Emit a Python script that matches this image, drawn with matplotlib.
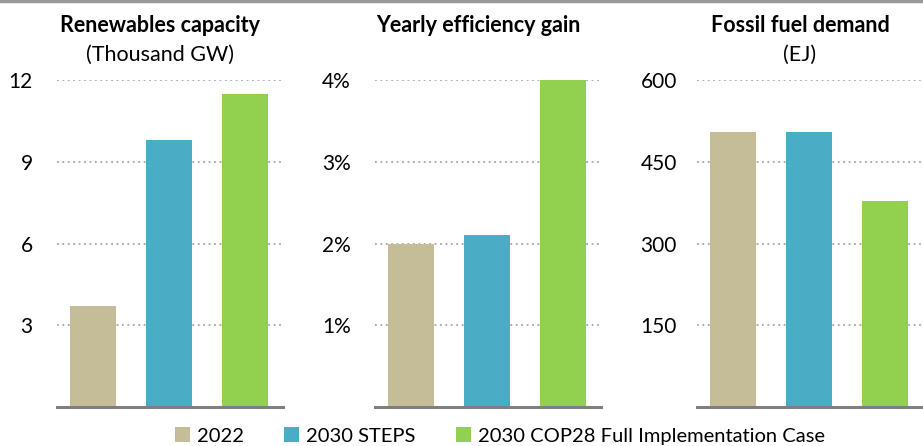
import matplotlib
matplotlib.use("Agg")
import matplotlib.pyplot as plt
from matplotlib.patches import Patch
from matplotlib.lines import Line2D

plt.rcParams['font.family'] = ['Lato', 'DejaVu Sans']

series = ["2022", "2030 STEPS", "2030 COP28 Full Implementation Case"]
colors = ["#C5BD97", "#4BACC6", "#92D050"]

titles = ["Renewables capacity", "Yearly efficiency gain", "Fossil fuel demand"]
subtitles = ["(Thousand GW)", "", "(EJ)"]

renewables = [3.7, 9.8, 11.5]
efficiency = [2.0, 2.1, 4.0]
fossil = [505, 505, 378]

ticks_ren = [3, 6, 9, 12]
ticks_eff = [1, 2, 3, 4]
ticks_fos = [150, 300, 450, 600]
labels_ren = ["3", "6", "9", "12"]
labels_eff = ["1%", "2%", "3%", "4%"]
labels_fos = ["150", "300", "450", "600"]

W, H = 923, 446
fig = plt.figure(figsize=(W / 100, H / 100), dpi=100)

panels = [
    (57, renewables, ticks_ren, labels_ren, 12, 17.5),
    (375, efficiency, ticks_eff, labels_eff, 4, 17.5),
    (697, fossil, ticks_fos, labels_fos, 600, 14.5),
]
ax_w = 226
top_y, base_y = 80, 407

for i, (x0, vals, ticks, tlabels, ymax, pad) in enumerate(panels):
    ax = fig.add_axes([x0 / W, 1 - base_y / H, ax_w / W, (base_y - top_y) / H])
    xs = [0, 1, 2]
    ax.set_ylim(0, ymax)
    ax.set_xlim(-0.47, 2.5)
    for t in ticks:
        ax.axhline(t, color="#A6A6A6", linestyle=(0, (1, 2)), linewidth=1.3, zorder=1)
    ax.bar(xs, vals, width=0.6, color=colors, zorder=2)
    ax.axhline(0, color="#7F7F7F", linewidth=2.2, zorder=3, clip_on=False)
    for s in ax.spines.values():
        s.set_visible(False)
    ax.set_xticks([])
    ax.set_yticks(ticks)
    ax.set_yticklabels(tlabels, fontsize=15, color="#000000")
    ax.tick_params(axis="y", length=0, pad=pad)
    ax.patch.set_alpha(0)
    fig.text((x0 + ax_w / 2 - 10) / W, 1 - 25 / H, titles[i], ha="center", va="center",
             fontsize=15.5, fontweight="bold")
    if subtitles[i]:
        fig.text((x0 + ax_w / 2 - 10) / W, 1 - 55 / H, subtitles[i], ha="center", va="center",
                 fontsize=15.5)

# top border line
fig.add_artist(Line2D([0, 1], [1 - 1 / H, 1 - 1 / H], color="#999999", linewidth=2.5,
                      transform=fig.transFigure))

handles = [Patch(facecolor=c, edgecolor="none") for c in colors]
fig.legend(handles, series, loc="center", bbox_to_anchor=(500 / W, 1 - 436 / H), ncol=3,
           frameon=False, fontsize=14.5, handlelength=0.75, handleheight=0.75,
           handletextpad=0.35, columnspacing=2.0, borderpad=0)

fig.savefig("out.png", dpi=100)
